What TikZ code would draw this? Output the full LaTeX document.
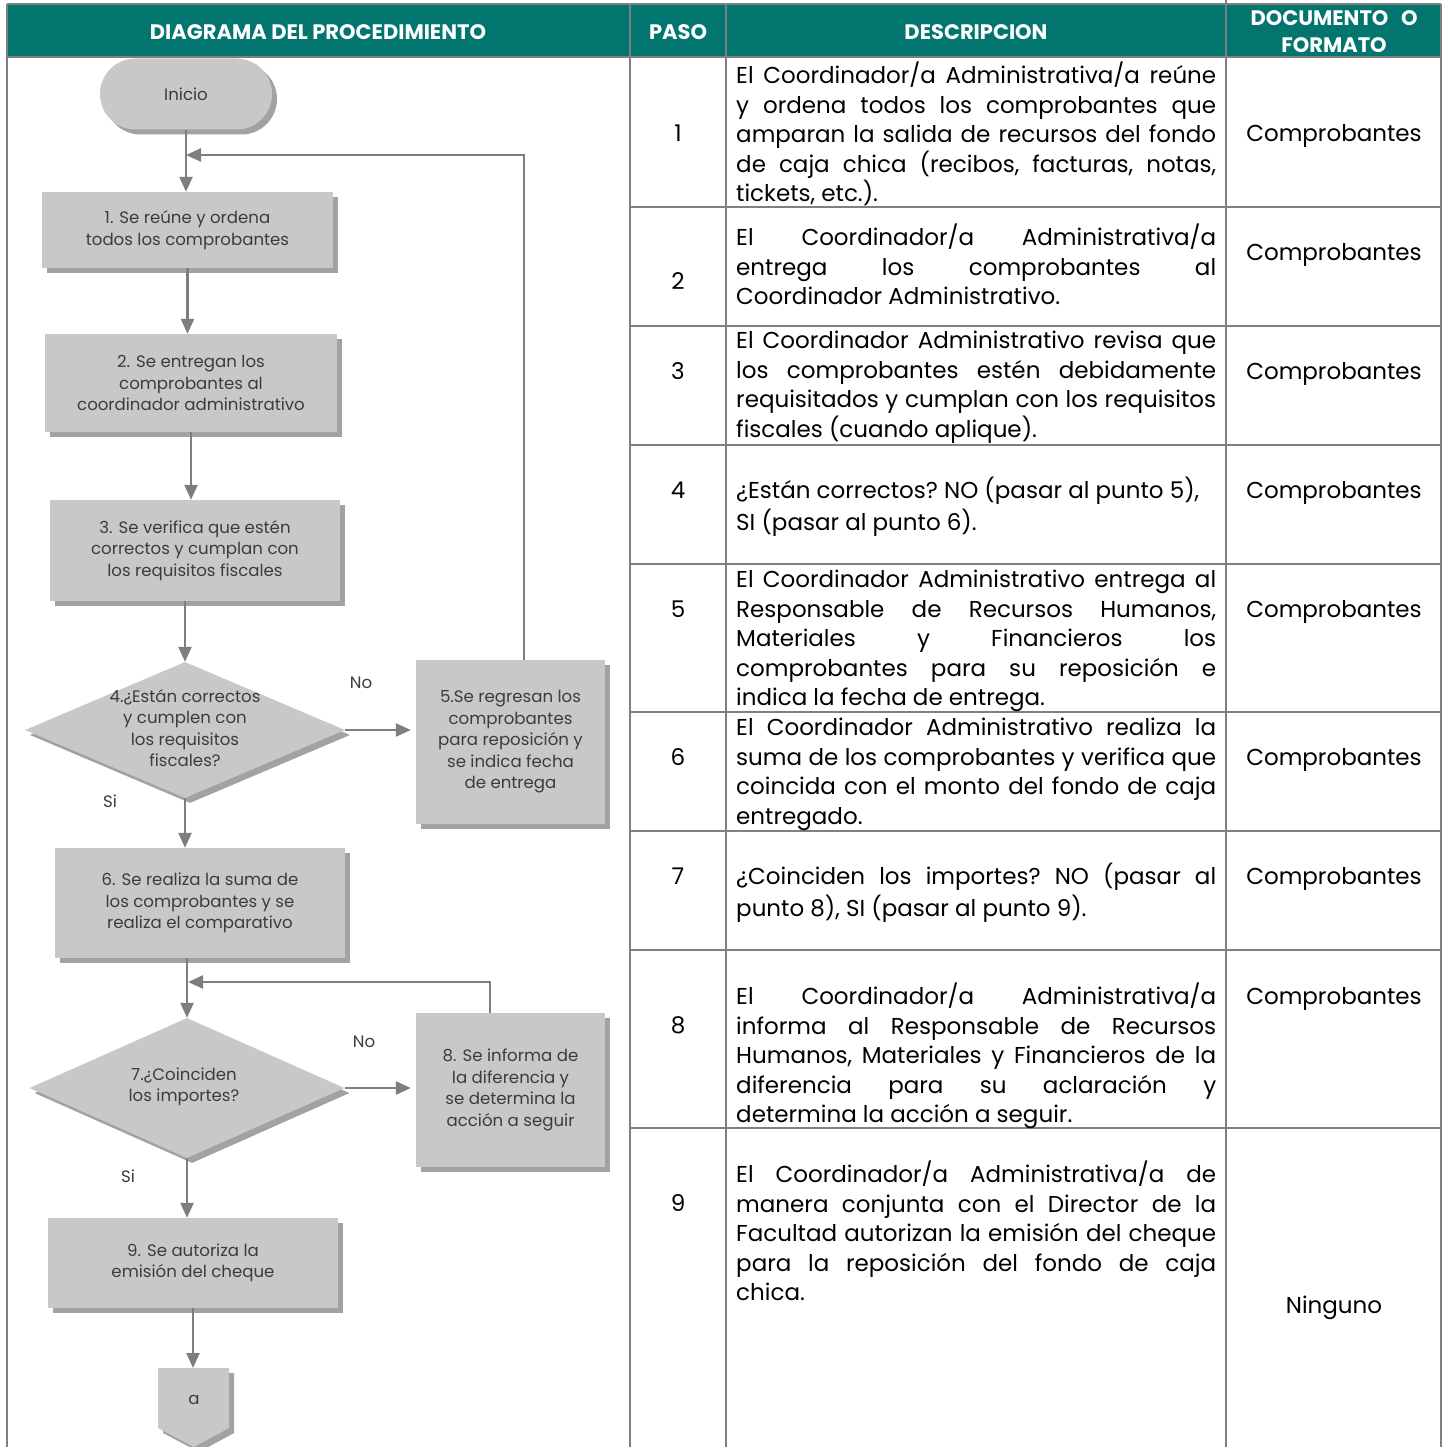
\documentclass[tikz,border=0pt]{standalone}
\usepackage{fontspec}
\setmainfont{Poppins}
\usetikzlibrary{shapes.geometric,shapes.misc,shadows,arrows.meta,calc}
\definecolor{teal1}{HTML}{03756F}
\definecolor{gridgray}{HTML}{808080}
\definecolor{nodefill}{HTML}{C8C8C8}
\definecolor{shadowgray}{HTML}{A2A2A2}
\definecolor{arrowgray}{HTML}{7E7E7E}
\definecolor{diagtext}{HTML}{3C3C3C}
\newcommand\descfont{\fontsize{23}{29.5}\selectfont\frenchspacing}
\newcommand\diagfont{\fontsize{16.6}{21.5}\selectfont}
\newcommand\headfont{\fontsize{21}{27}\selectfont\bfseries}
\begin{document}
\begin{tikzpicture}[x=1pt,y=-1pt,
  grid/.style={draw=gridgray,line width=2pt},
  shad/.style={drop shadow={shadow xshift=5pt,shadow yshift=-5pt,fill=shadowgray,opacity=1}},
  proc/.style={rectangle,fill=nodefill,inner sep=0pt,text=diagtext,font=\diagfont,align=center,shad},
  dia/.style={diamond,fill=nodefill,inner sep=0pt,shad},
  dtext/.style={text=diagtext,font=\diagfont,align=center,inner sep=0pt},
  lbl/.style={text=diagtext,font=\diagfont,inner sep=0pt},
  arr/.style={draw=arrowgray,line width=2.4pt,-{Triangle[width=13pt,length=15pt]}},
  head/.style={text=white,font=\headfont,align=center,inner sep=0pt},
  desc/.style={anchor=north west,text width=480pt,align=justify,inner sep=0pt,font=\descfont,text=black,execute at begin node=\strut},
  cell/.style={anchor=base,inner sep=0pt,font=\descfont,text=black}
]
\useasboundingbox (0,0) rectangle (1446,1447);
\fill[white] (0,0) rectangle (1446,1447);

% header
\fill[teal1] (7,4) rectangle (1441,57);
\node[head] (h1) at (318,32) {DIAGRAMA DEL PROCEDIMIENTO};
\node[head] (h2) at (678,32) {PASO};
\node[head] (h3) at (976,32) {DESCRIPCION};
\node[head] (h4a) at (1334,18) {DOCUMENTO\hspace{0.6em}O};
\node[head] (h4b) at (1334,45) {FORMATO};

% grid
\draw[grid] (7,4) -- (1441,4);
\draw[grid] (7,57) -- (1441,57);
\draw[grid] (7,4) -- (7,1447);
\draw[grid] (1441,4) -- (1441,1447);
\draw[grid] (630,4) -- (630,1447);
\draw[grid] (726,4) -- (726,1447);
\draw[grid] (1226,0) -- (1226,1447);
\foreach \yy in {207,326,445,564,712,831,950,1128}
  \draw[grid] (630,\yy) -- (1441,\yy);

% PASO numbers
\node[cell] (p1) at (678,142) {1};
\node[cell] (p2) at (678,289) {2};
\node[cell] (p3) at (678,379) {3};
\node[cell] (p4) at (678,498) {4};
\node[cell] (p5) at (678,617) {5};
\node[cell] (p6) at (678,765) {6};
\node[cell] (p7) at (678,884) {7};
\node[cell] (p8) at (678,1033) {8};
\node[cell] (p9) at (678,1211) {9};

% documents
\node[cell] (c1) at (1334,142) {Comprobantes};
\node[cell] (c2) at (1334,260) {Comprobantes};
\node[cell] (c3) at (1334,379) {Comprobantes};
\node[cell] (c4) at (1334,498) {Comprobantes};
\node[cell] (c5) at (1334,617) {Comprobantes};
\node[cell] (c6) at (1334,765) {Comprobantes};
\node[cell] (c7) at (1334,884) {Comprobantes};
\node[cell] (c8) at (1334,1004) {Comprobantes};
\node[cell] (c9) at (1334,1313) {Ninguno};

% descriptions
\node[desc] (d1) at (736,62) {El Coordinador/a Administrativa/a reúne\linebreak y ordena todos los comprobantes que\linebreak amparan la salida de recursos del fondo\linebreak de caja chica (recibos, facturas, notas,\linebreak tickets, etc.).};
\node[desc] (d2) at (736,224) {El Coordinador/a Administrativa/a\linebreak entrega los comprobantes al\linebreak Coordinador Administrativo.};
\node[desc] (d3) at (736,328) {El Coordinador Administrativo revisa que\linebreak los comprobantes estén debidamente\linebreak requisitados y cumplan con los requisitos\linebreak fiscales (cuando aplique).};
\node[desc] (d4t) at (736,477) {¿Están correctos? NO (pasar al punto 5),\\ SI (pasar al punto 6).};
\node[desc] (d5) at (736,567) {El Coordinador Administrativo entrega al\linebreak Responsable de Recursos Humanos,\linebreak Materiales y Financieros los\linebreak comprobantes para su reposición e\linebreak indica la fecha de entrega.};
\node[desc] (d6) at (736,715) {El Coordinador Administrativo realiza la\linebreak suma de los comprobantes y verifica que\linebreak coincida con el monto del fondo de caja\linebreak entregado.};
\node[desc] (d7t) at (736,863) {¿Coinciden los importes? NO (pasar al\linebreak punto 8), SI (pasar al punto 9).};
\node[desc] (d8) at (736,983) {El Coordinador/a Administrativa/a\linebreak informa al Responsable de Recursos\linebreak Humanos, Materiales y Financieros de la\linebreak diferencia para su aclaración y\linebreak determina la acción a seguir.};
\node[desc] (d9) at (736,1161) {El Coordinador/a Administrativa/a de\linebreak manera conjunta con el Director de la\linebreak Facultad autorizan la emisión del cheque\linebreak para la reposición del fondo de caja\linebreak chica.};

% flowchart nodes
\node[rounded rectangle,fill=nodefill,shad,inner sep=0pt,minimum width=172pt,minimum height=71pt,text=diagtext,font=\diagfont] (ini) at (186,94) {Inicio};
\node[proc,minimum width=291pt,minimum height=76pt] (b1) at (187.5,230) {1. Se reúne y ordena\\todos los comprobantes};
\node[proc,minimum width=292pt,minimum height=98pt] (b2) at (191,383) {2. Se entregan los\\comprobantes al\\coordinador administrativo};
\node[proc,minimum width=290pt,minimum height=101pt] (b3) at (195,550.5) {3. Se verifica que estén\\correctos y cumplan con\\los requisitos fiscales};
\node[dia,minimum width=320pt,minimum height=136pt] (q4) at (185,730) {};
\node[dtext] (q4t) at (185,728) {4.¿Están correctos\\y cumplen con\\los requisitos\\fiscales?};
\node[proc,minimum width=189pt,minimum height=164pt] (b5) at (510.5,742) {5.Se regresan los\\comprobantes\\para reposición y\\se indica fecha\\de entrega};
\node[proc,minimum width=290pt,minimum height=110pt] (b6) at (200,903) {6. Se realiza la suma de\\los comprobantes y se\\realiza el comparativo};
\node[dia,minimum width=315pt,minimum height=140pt] (q7) at (187,1088) {};
\node[dtext] (q7t) at (184,1087) {7.¿Coinciden\\los importes?};
\node[proc,minimum width=189pt,minimum height=154pt] (b8) at (510.5,1090) {8. Se informa de\\la diferencia y\\se determina la\\acción a seguir};
\node[proc,minimum width=290pt,minimum height=90pt] (b9) at (193,1263) {9. Se autoriza la\\emisión del cheque};

% off-page connector
\begin{scope}[shift={(5,5)}]
\fill[shadowgray] (158,1368) -- (229,1368) -- (229,1428) -- (194,1447) -- (158,1428) -- cycle;
\end{scope}
\fill[nodefill] (158,1368) -- (229,1368) -- (229,1428) -- (194,1447) -- (158,1428) -- cycle;
\coordinate (atop) at (194,1368);
\node[lbl] (atext) at (194,1400) {a};

% labels
\node[lbl] (no4) at (361,683) {No};
\node[lbl] (si4) at (110,801) {Si};
\node[lbl] (no7) at (364,1042) {No};
\node[lbl] (si7) at (128,1176) {Si};

% connectors
\coordinate (j1) at (186,155);
\coordinate (f5) at (524,660);
\coordinate (j2) at (188,982);
\coordinate (f8) at (490,1013);
\draw[arr] (ini.south) -- (ini.south |- b1.north);
\draw[arr] (b1.south) -- (b1.south |- b2.north);
\draw[arr] (b2.south) -- (b2.south |- b3.north);
\draw[arr] (q4.north |- b3.south) -- (q4.north);
\draw[arr,shorten >=5pt] (q4.east) -- (q4.east -| b5.west);
\draw[arr] (q4.south) -- (q4.south |- b6.north);
\draw[arr] (f5) |- (j1);
\draw[arr] (q7.north |- b6.south) -- (q7.north);
\draw[arr,shorten >=5pt] (q7.east) -- (q7.east -| b8.west);
\draw[arr] (q7.south) -- (q7.south |- b9.north);
\draw[arr] (f8) |- (j2);
\draw[arr] (b9.south) -- (b9.south |- atop);
\end{tikzpicture}
\end{document}
